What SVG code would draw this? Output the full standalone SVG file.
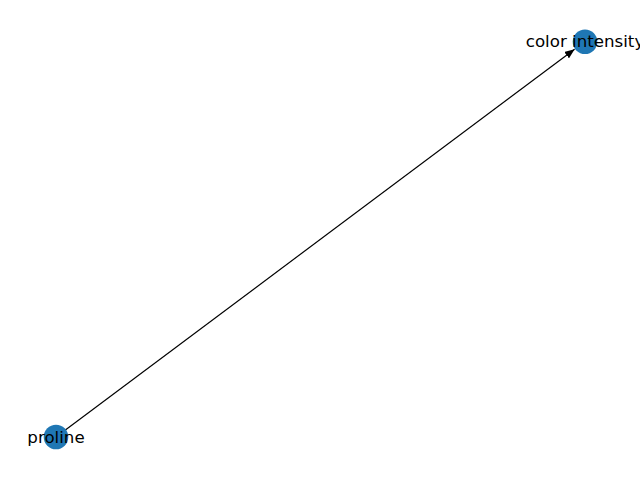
<svg xmlns="http://www.w3.org/2000/svg" width="640" height="480" viewBox="0 0 640 480">
<defs>
<style>
.node{fill:#1f77b4;}
.lbl{font-family:"DejaVu Sans",sans-serif;font-size:16.67px;fill:#000;text-anchor:middle;dominant-baseline:central;}
.edge{stroke:#000;stroke-width:1.2;fill:none;}
</style>
<marker id="ah" viewBox="0 0 10 8" refX="10" refY="4" markerWidth="10" markerHeight="8" markerUnits="userSpaceOnUse" orient="auto">
<path d="M0,0 L10,4 L0,8 Z" fill="#000"/>
</marker>
</defs>
<rect width="640" height="480" fill="#fff"/>
<g id="connectors">
<line class="edge" x1="56" y1="437" x2="574.6" y2="49.2" marker-end="url(#ah)"/>
</g>
<g id="node-proline">
<circle class="node" cx="56" cy="437" r="12.3"/>
<text class="lbl" x="56" y="437">proline</text>
</g>
<g id="node-color_intensity">
<circle class="node" cx="585" cy="41.7" r="12.3"/>
<text class="lbl" x="585" y="41.7">color intensity</text>
</g>
</svg>
